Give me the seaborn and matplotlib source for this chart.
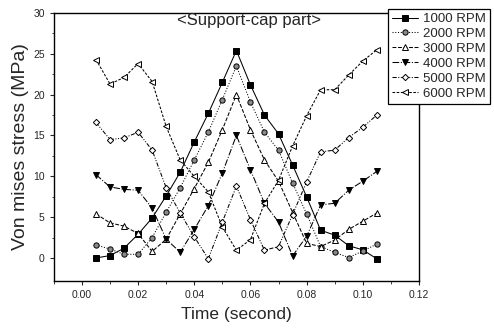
import numpy as np
import matplotlib
matplotlib.use('Agg')
import matplotlib.pyplot as plt
import pandas as pd
import seaborn as sns

# sample times (s)
time = [0.005, 0.010, 0.015, 0.020, 0.025, 0.030, 0.035, 0.040, 0.045, 0.050, 0.055,
        0.060, 0.065, 0.070, 0.075, 0.080, 0.085, 0.090, 0.095, 0.100, 0.105]

rpm_1000 = [0.0, 0.3, 1.2, 2.9, 4.9, 7.6, 10.5, 14.2, 17.7, 21.5, 25.4,
            21.2, 17.5, 15.2, 11.4, 7.5, 3.4, 2.8, 1.5, 1.0, -0.1]
rpm_2000 = [1.6, 1.1, 0.45, 0.45, 2.5, 5.6, 8.6, 12.0, 15.4, 19.4, 23.5,
            19.1, 15.4, 13.2, 9.2, 5.4, 1.4, 0.7, 0.05, 0.85, 1.7]
rpm_3000 = [5.4, 4.3, 3.9, 3.0, 0.8, 2.3, 5.4, 8.5, 11.7, 15.7, 20.0,
            15.7, 12.0, 9.4, 5.6, 1.8, 1.4, 2.2, 3.5, 4.5, 5.5]
rpm_4000 = [10.2, 8.7, 8.4, 8.3, 6.1, 2.3, 0.7, 3.5, 6.4, 10.4, 15.0,
            10.8, 6.7, 4.4, 0.25, 2.65, 6.5, 6.7, 8.3, 9.4, 10.6]
rpm_5000 = [16.6, 14.5, 14.7, 15.4, 13.2, 8.6, 5.5, 2.6, -0.1, 4.4, 8.8,
            4.7, 0.95, 1.4, 5.3, 9.3, 13.0, 13.2, 14.75, 16.0, 17.5]
rpm_6000 = [24.3, 21.3, 22.1, 23.8, 21.6, 16.1, 12.0, 10.0, 8.1, 3.8, 0.95,
            2.25, 6.7, 9.5, 13.7, 17.4, 20.6, 20.6, 22.4, 24.1, 25.5]

labels = ['1000 RPM', '2000 RPM', '3000 RPM', '4000 RPM', '5000 RPM', '6000 RPM']
series = [rpm_1000, rpm_2000, rpm_3000, rpm_4000, rpm_5000, rpm_6000]

styles = [
    dict(marker='s', markerfacecolor='black', linestyle='-'),
    dict(marker='o', markerfacecolor='#8a8a8a', linestyle=':'),
    dict(marker='^', markerfacecolor='white', linestyle='--'),
    dict(marker='v', markerfacecolor='black', linestyle='-.'),
    dict(marker='D', markerfacecolor='white', linestyle=(0, (4, 1.5, 1, 1.5, 1, 1.5)), markersize=3.2),
    dict(marker='<', markerfacecolor='white', linestyle=(0, (2.5, 1.5))),
]

df = pd.DataFrame({'time': time})
for lab, vals in zip(labels, series):
    df[lab] = vals

sns.set_style('ticks')
plt.rcParams['font.family'] = ['Liberation Sans', 'DejaVu Sans']

fig = plt.figure(figsize=(4.94, 3.32), dpi=100)
ax = fig.add_axes([0.109, 0.154, 0.739, 0.807])

for lab, st in zip(labels, styles):
    kw = dict(color='black', linewidth=0.75, markersize=3.8, markeredgecolor='black',
              markeredgewidth=0.7)
    kw.update(st)
    sns.lineplot(data=df, x='time', y=lab, ax=ax, label=lab, **kw)

ax.set_xlim(-0.01, 0.12)
ax.set_ylim(-2.8, 30)
ax.set_xticks(np.arange(0, 0.121, 0.02))
ax.set_xticks(np.arange(-0.01, 0.121, 0.01), minor=True)
ax.set_yticks(np.arange(0, 31, 5))
ax.set_yticks(np.arange(0, 31, 2.5), minor=True)
ax.xaxis.set_major_formatter(matplotlib.ticker.FormatStrFormatter('%.2f'))
ax.tick_params(axis='both', which='major', labelsize=7.5, length=3, width=0.8, direction='out')
ax.tick_params(axis='both', which='minor', length=1.8, width=0.6, direction='out')
for sp in ax.spines.values():
    sp.set_visible(True)
    sp.set_linewidth(1.0)
    sp.set_color('black')

ax.set_xlabel('Time (second)', fontsize=12.5, labelpad=5)
ax.set_ylabel('Von mises stress (MPa)', fontsize=14, labelpad=3)
ax.text(0.534, 0.972, '<Support-cap part>', transform=ax.transAxes, ha='center',
        va='center', fontsize=12)

leg = ax.legend(loc='upper right', bbox_to_anchor=(490 / 494, 1 - 9 / 332),
                bbox_transform=fig.transFigure, fontsize=9.5, frameon=True,
                fancybox=False, edgecolor='black', handlelength=2.0, handletextpad=0.4,
                borderpad=0.3, labelspacing=0.2, borderaxespad=0)
leg.get_frame().set_linewidth(0.9)
leg.get_frame().set_alpha(1)

fig.savefig('out.png', dpi=100)
